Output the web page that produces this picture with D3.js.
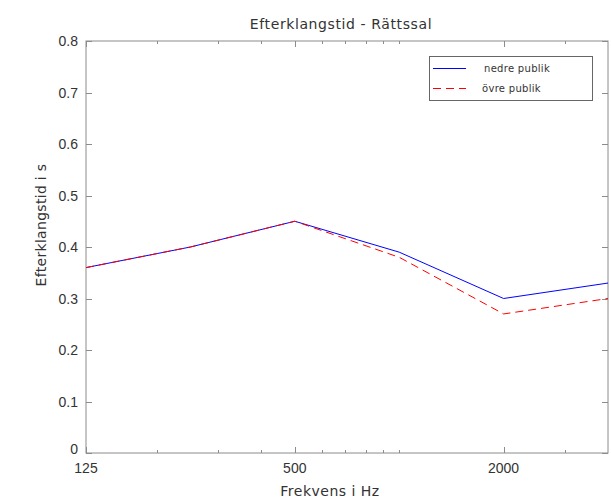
<!DOCTYPE html>
<html><head><meta charset="utf-8">
<script src="https://cdn.jsdelivr.net/npm/d3@7"></script>
<style>body{margin:0;background:#fff;}svg{display:block;}</style>
</head><body>
<svg id="c" width="611" height="501"></svg>
<script>
const freqs = [125, 250, 500, 1000, 2000, 4000];
const nedre = [0.36, 0.40, 0.45, 0.39, 0.30, 0.33];
const ovre  = [0.36, 0.40, 0.45, 0.38, 0.27, 0.30];
const xMajor = [125, 500, 2000];
const xMinor = [200, 300, 400, 600, 700, 800, 900, 1000, 3000];
const yTicks = [0, 0.1, 0.2, 0.3, 0.4, 0.5, 0.6, 0.7, 0.8];
const seriesNames = ["nedre publik", "övre publik"];

const L = 86, R = 608, T = 41, B = 453;
const font = "'DejaVu Sans', sans-serif";
const numFont = "'Liberation Sans', Arial, sans-serif";
const svg = d3.select("#c");
const x = d3.scaleLog().domain([125, 4000]).range([L, R]);
const y = d3.scaleLinear().domain([0, 0.8]).range([B, T]);
const axisCol = "#8c8c8c", txt = "#333";

const g = svg.append("g");
g.append("rect").attr("x", L).attr("y", T).attr("width", R - L).attr("height", B - T)
  .attr("fill", "none").attr("stroke", axisCol).attr("stroke-width", 1);

function xt(vals, len) {
  vals.forEach(v => {
    const px = Math.round(x(v)) + 0.5;
    g.append("line").attr("x1", px).attr("x2", px).attr("y1", B).attr("y2", B - len).attr("stroke", axisCol);
    g.append("line").attr("x1", px).attr("x2", px).attr("y1", T).attr("y2", T + len).attr("stroke", axisCol);
  });
}
xt(xMajor, 6); xt(xMinor, 3);
xMajor.forEach(v => {
  g.append("text").attr("x", x(v)).attr("y", B + 20).attr("text-anchor", "middle")
    .attr("font-family", numFont).attr("font-size", 14).attr("fill", txt).text(v);
});
yTicks.forEach(v => {
  const py = Math.round(y(v)) + 0.5;
  g.append("line").attr("x1", L).attr("x2", L + 6).attr("y1", py).attr("y2", py).attr("stroke", axisCol);
  g.append("line").attr("x1", R).attr("x2", R - 6).attr("y1", py).attr("y2", py).attr("stroke", axisCol);
  g.append("text").attr("x", L - 8).attr("y", y(v) + (v === 0 ? 1 : 5))
    .attr("text-anchor", "end")
    .attr("font-family", numFont).attr("font-size", 14).attr("fill", txt).text(v === 0 ? "0" : v.toFixed(1));
});

const line = d3.line().x((d, i) => x(freqs[i])).y(d => y(d));
g.append("path").datum(nedre).attr("d", line).attr("fill", "none").attr("stroke", "#0000ff").attr("stroke-width", 1);
g.append("path").datum(ovre).attr("d", line).attr("fill", "none").attr("stroke", "#ff0000")
  .attr("stroke-width", 1).attr("stroke-dasharray", "8,5");

svg.append("text").attr("x", 341).attr("y", 29).attr("text-anchor", "middle")
  .attr("font-family", font).attr("font-size", 14).attr("letter-spacing", 0.6).attr("fill", txt).text("Efterklangstid - Rättssal");
svg.append("text").attr("x", 330).attr("y", 496).attr("text-anchor", "middle")
  .attr("font-family", font).attr("font-size", 14).attr("letter-spacing", 0.5).attr("fill", txt).text("Frekvens i Hz");
svg.append("text").attr("transform", "translate(46,225) rotate(-90)").attr("text-anchor", "middle")
  .attr("font-family", font).attr("font-size", 14).attr("letter-spacing", 0.3).attr("fill", txt).text("Efterklangstid i s");

const lg = svg.append("g");
lg.append("rect").attr("x", 429.5).attr("y", 56.5).attr("width", 163).attr("height", 44)
  .attr("fill", "#fff").attr("stroke", "#666");
const cols = ["#0000ff", "#ff0000"], dashes = [null, "8,5"];
seriesNames.forEach((n, i) => {
  const yy = 68 + i * 20;
  lg.append("line").attr("x1", 433).attr("x2", 466).attr("y1", yy + 0.5).attr("y2", yy + 0.5)
    .attr("stroke", cols[i]).attr("stroke-dasharray", dashes[i]);
  lg.append("text").attr("x", i === 0 ? 484 : 482).attr("y", yy + 3.5)
    .attr("font-family", font).attr("font-size", 10).attr("letter-spacing", 0.3).attr("fill", txt).text(n);
});
</script>
</body></html>
